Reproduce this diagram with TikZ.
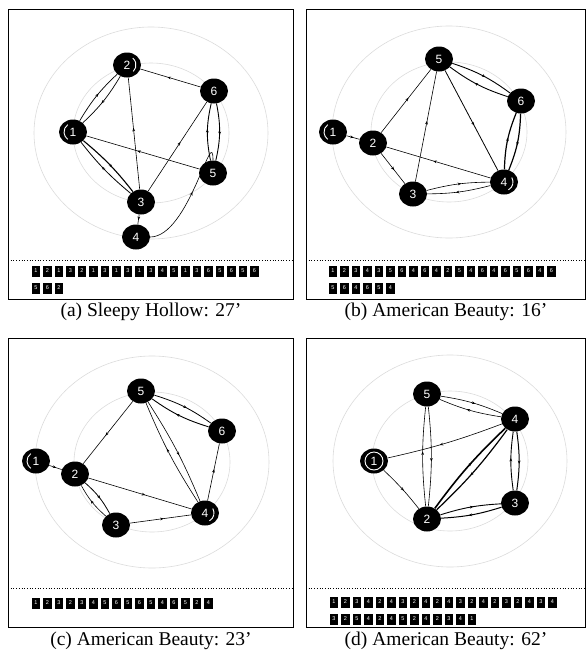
\documentclass[tikz,border=0pt]{standalone}
\usepackage{fontspec}
\setmainfont{Liberation Serif}
\newfontfamily\labelfont{Liberation Sans}
\usetikzlibrary{shapes.geometric,decorations.markings,arrows.meta}

\begin{document}
\begin{tikzpicture}[x=1pt,y=-1pt,
  state/.style={ellipse, fill=black, minimum width=28pt, minimum height=25pt,
    inner sep=0pt, text=white, font=\labelfont\fontsize{12}{12}\selectfont},
  flow/.style={line width=#1, postaction={decorate},
    decoration={markings, mark=at position 0.55 with {\arrow{Stealth[length=3.4pt,width=2.8pt]}}}},
  flow/.default=0.6pt,
  guide/.style={draw=black!14, line width=0.6pt},
  panel/.style={draw=black, line width=1pt},
  divider/.style={dotted, line width=0.7pt},
  seqbox/.style={fill=black, minimum width=8.5pt, minimum height=11pt, inner sep=0pt,
    text=white, font=\labelfont\fontsize{5.5}{5.5}\selectfont},
  endmark/.style={draw=white, line width=0.9pt},
  caption/.style={font=\fontsize{19.5}{22}\selectfont}
]
\useasboundingbox (0,0) rectangle (588,657);

% ---------- frames and dividers ----------
\draw[panel] (8,9) rectangle (293,299);
\draw[panel] (306,9) rectangle (585,299);
\draw[panel] (8,338) rectangle (293,627);
\draw[panel] (306,338) rectangle (585,627);
\draw[divider] (8,260) -- (293,260);
\draw[divider] (306,260) -- (585,260);
\draw[divider] (8,588) -- (293,588);
\draw[divider] (306,588) -- (585,588);

% ---------- guide rings ----------
\foreach \cx/\cy in {151/133, 449/132, 152/462, 450/461} {
  \draw[guide] (\cx,\cy) ellipse [x radius=117pt, y radius=106pt];
  \draw[guide] (\cx,\cy) ellipse [x radius=78pt, y radius=70pt];
}

% ---------- (a) Sleepy Hollow ----------
\node[state] (a1) at (73,132) {1};
\node[state] (a2) at (127,65) {2};
\node[state] (a3) at (141,202) {3};
\node[state] (a4) at (136,237) {4};
\node[state] (a5) at (213,173) {5};
\node[state] (a6) at (214,91) {6};
% first and last shot of the sequence (angles in page coordinates)
\draw[endmark] (a1.center) ++(125:9pt) arc[start angle=125, end angle=235, radius=9pt];
\draw[endmark] (a2.center) ++(-45:9pt) arc[start angle=-45, end angle=50, radius=9pt];

\draw[flow=0.7pt] (a1) to[bend left=8] (a2);
\draw[flow=0.7pt] (a2) to[bend left=8] (a1);
\draw[flow=1.1pt] (a1) to[bend left=6] (a3);
\draw[flow=0.8pt] (a3) to[bend left=6] (a1);
\draw[flow] (a3) -- (a2);
\draw[flow] (a3) -- (a4);
\draw[flow] (a4) to[out=0,in=90] (a5);
\draw[flow] (a5) -- (a1);
\draw[flow] (a3) -- (a6);
\draw[flow=0.9pt] (a6) to[bend left=12] (a5);
\draw[flow=0.9pt] (a5) to[bend left=12] (a6);
\draw[flow] (a6) -- (a2);

\foreach \v [count=\i from 0] in {1,2,1,3,2,1,3,1,3,1,3,4,5,1,3,6,5,6,5,6}
  \node[seqbox] (sa\i) at ({36+11.5*\i},271) {\v};
\foreach \v [count=\i from 0] in {5,6,2}
  \node[seqbox] (ta\i) at ({36+11.5*\i},288) {\v};
\node[caption] (capa) at (151,312) {(a) Sleepy Hollow: 27’};

% ---------- (b) American Beauty, 16' ----------
\node[state] (b1) at (333,132) {1};
\node[state] (b2) at (373,143) {2};
\node[state] (b3) at (413,194) {3};
\node[state] (b4) at (504,182) {4};
\node[state] (b5) at (439,59) {5};
\node[state] (b6) at (521,101) {6};
\draw[endmark] (b1.center) ++(125:9pt) arc[start angle=125, end angle=235, radius=9pt];
\draw[endmark] (b4.center) ++(-60:9pt) arc[start angle=-60, end angle=30, radius=9pt];

\draw[flow] (b1) -- (b2);
\draw[flow] (b2) -- (b3);
\draw[flow] (b3) to[bend left=7] (b4);
\draw[flow] (b4) to[bend left=7] (b3);
\draw[flow] (b3) -- (b5);
\draw[flow=0.9pt] (b5) to[bend left=9] (b6);
\draw[flow=0.9pt] (b6) to[bend left=9] (b5);
\draw[flow=1.2pt] (b6) to[bend left=10] (b4);
\draw[flow=1.2pt] (b4) to[bend left=10] (b6);
\draw[flow] (b4) -- (b2);
\draw[flow] (b2) -- (b5);
\draw[flow=0.8pt] (b5) -- (b4);

\foreach \v [count=\i from 0] in {1,2,3,4,3,5,6,4,6,4,2,5,4,6,4,6,5,6,4,6}
  \node[seqbox] (sb\i) at ({333+11.5*\i},271) {\v};
\foreach \v [count=\i from 0] in {5,6,4,6,5,4}
  \node[seqbox] (tb\i) at ({333+11.5*\i},288) {\v};
\node[caption] (capb) at (446,312) {(b) American Beauty: 16’};

% ---------- (c) American Beauty, 23' ----------
\node[state] (c1) at (36,461) {1};
\node[state] (c2) at (75,474) {2};
\node[state] (c3) at (116,525) {3};
\node[state] (c4) at (205,513) {4};
\node[state] (c5) at (141,391) {5};
\node[state] (c6) at (222,431) {6};
\draw[endmark] (c1.center) ++(125:9pt) arc[start angle=125, end angle=235, radius=9pt];
\draw[endmark] (c4.center) ++(-60:9pt) arc[start angle=-60, end angle=30, radius=9pt];

\draw[flow] (c1) -- (c2);
\draw[flow=0.8pt] (c2) to[bend left=10] (c3);
\draw[flow] (c3) to[bend left=10] (c2);
\draw[flow] (c3) -- (c4);
\draw[flow] (c4) to[bend left=5] (c5);
\draw[flow] (c5) to[bend left=5] (c4);
\draw[flow=0.8pt] (c5) to[bend left=9] (c6);
\draw[flow=0.9pt] (c6) to[bend left=9] (c5);
\draw[flow] (c4) -- (c6);
\draw[flow] (c5) -- (c2);
\draw[flow] (c2) -- (c4);

\foreach \v [count=\i from 0] in {1,2,3,2,3,4,5,6,5,6,5,4,6,5,2,4}
  \node[seqbox] (sc\i) at ({36+11.5*\i},603) {\v};
\node[caption] (capc) at (151,641) {(c) American Beauty: 23’};

% ---------- (d) American Beauty, 62' ----------
\node[state] (d1) at (374,461) {1};
\node[state] (d2) at (427,519) {2};
\node[state] (d3) at (515,503) {3};
\node[state] (d4) at (515,419) {4};
\node[state] (d5) at (427,394) {5};
\draw[endmark] (d1) circle[radius=9pt];

\draw[flow] (d1) to[bend left=4] (d2);
\draw[flow=0.9pt] (d2) to[bend left=7] (d3);
\draw[flow=1.0pt] (d3) to[bend left=7] (d2);
\draw[flow=0.9pt] (d3) to[bend left=8] (d4);
\draw[flow=1.0pt] (d4) to[bend left=8] (d3);
\draw[flow=1.6pt] (d2) to[bend left=5] (d4);
\draw[flow=1.2pt] (d4) to[bend left=5] (d2);
\draw[flow] (d2) to[bend left=6] (d5);
\draw[flow] (d5) to[bend left=6] (d2);
\draw[flow] (d5) to[bend left=7] (d4);
\draw[flow] (d4) to[bend left=7] (d5);
\draw[flow] (d4) to[bend left=4] (d1);

\foreach \v [count=\i from 0] in {1,2,3,4,2,4,3,2,4,2,4,3,2,4,2,3,2,4,3,4}
  \node[seqbox] (sd\i) at ({334+11.5*\i},602) {\v};
\foreach \v [count=\i from 0] in {3,2,5,4,2,4,5,2,4,2,3,4,1}
  \node[seqbox] (td\i) at ({334+11.5*\i},619) {\v};
\node[caption] (capd) at (446,641) {(d) American Beauty: 62’};

\end{tikzpicture}
\end{document}
